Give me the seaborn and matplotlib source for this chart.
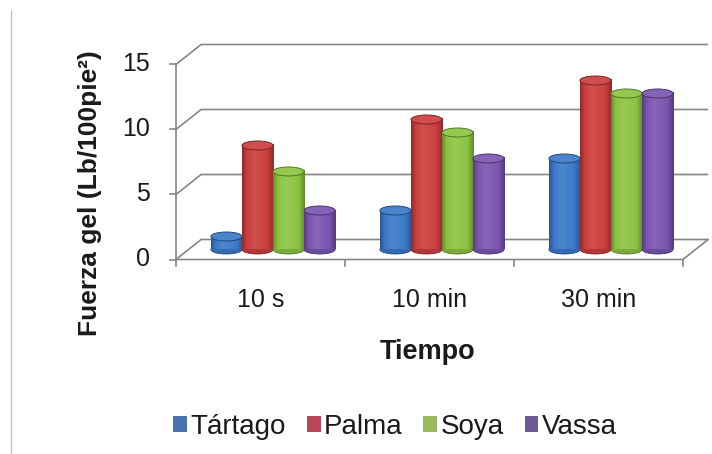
import numpy as np
import pandas as pd
import seaborn as sns
import matplotlib.pyplot as plt
from matplotlib.patches import Ellipse, Patch
from matplotlib.lines import Line2D
from matplotlib.colors import LinearSegmentedColormap, to_rgb

# ---- data -------------------------------------------------------------
tiempos = ["10 s", "10 min", "30 min"]
aceites = ["Tártago", "Palma", "Soya", "Vassa"]
tartago = [1, 3, 7]
palma = [8, 10, 13]
soya = [6, 9, 12]
vassa = [3, 7, 12]
y_ticks = [0, 5, 10, 15]

colores = ["#3B79C9", "#CB3D3D", "#8CC342", "#7A55B0"]
colores_leyenda = ["#4A72B0", "#B84658", "#9AB85E", "#6F5A96"]

df = pd.DataFrame({
    "Tiempo": tiempos * 4,
    "Aceite": np.repeat(aceites, len(tiempos)),
    "Fuerza": tartago + palma + soya + vassa,
})

# ---- figure / pixel geometry -----------------------------------------
W, H = 712, 454
X0, XS = 273.0, 169.0      # px of first category (bar plane), px per category
Y0, YS = 249.5, 13.0       # px of value 0 (bar plane), px per unit
DX, DY = 12.6 / XS, 10.0 / YS   # half depth of the 3-D box in data units
EH = 9.0 / YS              # height of cylinder caps

plt.rcParams["font.family"] = ["Liberation Sans", "DejaVu Sans"]
TXT = "#1a1a1a"
GRID = "#858585"

fig = plt.figure(figsize=(W / 100, H / 100), dpi=100)
ax = fig.add_axes([0, 0, 1, 1])

sns.barplot(data=df, x="Tiempo", y="Fuerza", hue="Aceite", palette=colores,
            width=0.735, saturation=1, legend=False, ax=ax, zorder=3)

# ---- 3-D box: back wall gridlines, left wall, floor --------------------
xf = -0.5 - DX
for v in y_ticks:
    ax.plot([xf, -0.5 + DX, 2.5 + DX], [v - DY, v + DY, v + DY],
            color=GRID, lw=1.2, zorder=1, solid_capstyle="butt")
    ax.plot([xf - 6 / XS, xf], [v - DY, v - DY], color=GRID, lw=1.2, zorder=1)
    ax.text(xf - 26 / XS, v - DY, str(v), ha="right", va="center",
            fontsize=18, color=TXT)
ax.plot([xf, xf], [-DY, y_ticks[-1] - DY], color=GRID, lw=1.2, zorder=1)
ax.plot([xf, 2.5 - DX, 2.5 + DX], [-DY, -DY, DY], color=GRID, lw=1.2, zorder=1)
for b in [-0.5, 0.5, 1.5, 2.5]:
    ax.plot([b - DX, b - DX], [-DY, -DY - 6 / YS], color=GRID, lw=1.2, zorder=1)
for i, t in enumerate(tiempos):
    ax.text(i - DX, (Y0 - 300) / YS, t, ha="center", va="center",
            fontsize=18, color=TXT)


# ---- turn flat bars into shaded cylinders -----------------------------
def mix(c, other, f):
    c, o = np.array(to_rgb(c)), np.array(to_rgb(other))
    return tuple(c * (1 - f) + o * f)


grad = np.linspace(0, 1, 128).reshape(1, -1)
for cont, base in zip(ax.containers, colores):
    dark = mix(base, "black", 0.30)
    edge = mix(base, "black", 0.40)
    light = mix(base, "white", 0.10)
    cmap = LinearSegmentedColormap.from_list(
        "cyl", [(0, dark), (0.15, base), (0.4, light), (0.8, base), (1, dark)])
    for rect in cont:
        x0, w, h = rect.get_x(), rect.get_width(), rect.get_height()
        xc = x0 + w / 2
        rect.set_edgecolor("none")
        ax.add_patch(Ellipse((xc, 0), w, EH, facecolor=mix(base, "black", 0.12),
                             edgecolor=edge, lw=0.6, zorder=2.9))
        ax.imshow(grad, cmap=cmap, extent=[x0, x0 + w, 0, h], aspect="auto",
                  interpolation="bilinear", zorder=3.1)
        ax.add_patch(Ellipse((xc, h), w, EH, facecolor=mix(base, "white", 0.08),
                             edgecolor=edge, lw=0.7, zorder=3.2))

ax.set_xlim(-X0 / XS, (W - X0) / XS)
ax.set_ylim((Y0 - H) / YS, Y0 / YS)
ax.axis("off")

# ---- titles, legend, frame -------------------------------------------
fig.text(90 / W, 1 - 193 / H, "Fuerza gel (Lb/100pie²)", rotation=90,
         ha="center", va="center", fontsize=19, fontweight="bold", color=TXT)
fig.text(428 / W, 1 - 352 / H, "Tiempo", ha="center", va="center",
         fontsize=19.5, fontweight="bold", color=TXT)

handles = [Patch(facecolor=c, edgecolor="none") for c in colores_leyenda]
fig.legend(handles, aceites, loc="center", bbox_to_anchor=(395 / W, 1 - 427 / H),
           ncol=4, frameon=False, fontsize=20, handlelength=0.5,
           handleheight=0.5, handletextpad=0.12, columnspacing=0.75,
           labelcolor=TXT)

fig.add_artist(Line2D([10.5 / W, 10.5 / W], [0, 1 - 10 / H],
                      transform=fig.transFigure, color="#c4c4c4", lw=1.0))

fig.savefig("out.png", dpi=100, facecolor="white")
